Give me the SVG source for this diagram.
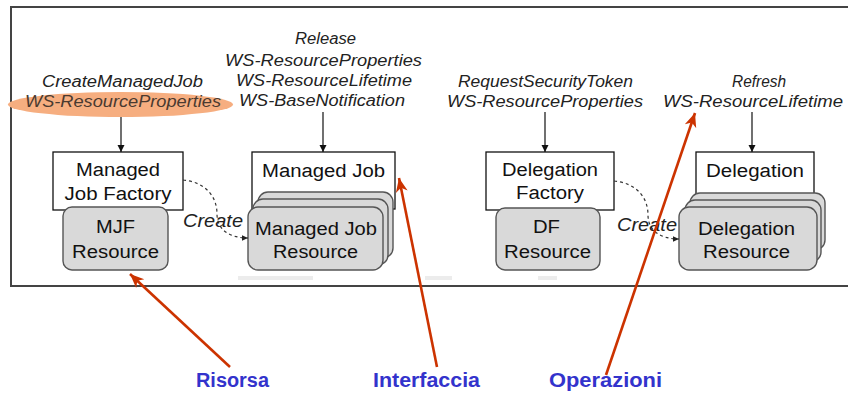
<svg xmlns="http://www.w3.org/2000/svg" width="848" height="393" viewBox="0 0 848 393">
<defs>
<marker id="ah" markerUnits="userSpaceOnUse" markerWidth="8" markerHeight="8" refX="7" refY="4" orient="auto">
<path d="M0,0.5 L7,4 L0,7.5 Z" fill="#111"/>
</marker>
<marker id="ahs" markerUnits="userSpaceOnUse" markerWidth="7" markerHeight="7" refX="6" refY="3.5" orient="auto">
<path d="M0,0.8 L6,3.5 L0,6.2 Z" fill="#222"/>
</marker>
<marker id="ahr" markerUnits="userSpaceOnUse" markerWidth="16" markerHeight="14" refX="14" refY="7" orient="auto">
<path d="M0,1 L14,7 L0,13 L4,7 Z" fill="#cc3300"/>
</marker>
<style>
.frame{fill:none;stroke:#444;stroke-width:2}
.box{fill:#fff;stroke:#111;stroke-width:1.3}
.res{fill:#d9d9d9;stroke:#555;stroke-width:1.4}
.bt{font-family:"Liberation Sans",Arial,sans-serif;font-size:18px;fill:#111;text-anchor:middle}
.it{font-family:"Liberation Sans",Arial,sans-serif;font-size:16px;font-style:italic;fill:#222;text-anchor:middle}
.cr{font-family:"Liberation Sans",Arial,sans-serif;font-size:18px;font-style:italic;fill:#222}
.lab{font-family:"Liberation Sans",Arial,sans-serif;font-size:20px;font-weight:bold;fill:#3333cc;text-anchor:middle}
.conn{fill:none;stroke:#111;stroke-width:1.2}
.dash{fill:none;stroke:#333;stroke-width:1.2;stroke-dasharray:3,3}
.red{fill:none;stroke:#cc3300;stroke-width:2.6}
</style>
</defs>
<rect class="frame" x="11" y="7" width="850" height="279"/>
<rect x="238" y="276" width="75" height="4" fill="#ececec"/>
<rect x="425" y="276" width="27" height="4" fill="#ececec"/>
<rect x="538" y="276" width="19" height="4" fill="#ececec"/>

<g id="ops-mjf">
<ellipse cx="120.5" cy="104.5" rx="112.5" ry="12.5" fill="#f6ae80"/>
<text class="it" x="122.5" y="86.5" textLength="161" lengthAdjust="spacingAndGlyphs">CreateManagedJob</text>
<text class="it" x="123" y="106.5" textLength="196" lengthAdjust="spacingAndGlyphs" style="fill:#4a3a30">WS-ResourceProperties</text>
</g>
<g id="ops-mj">
<text class="it" x="325.5" y="44" textLength="61" lengthAdjust="spacingAndGlyphs">Release</text>
<text class="it" x="323.5" y="65.5" textLength="197" lengthAdjust="spacingAndGlyphs">WS-ResourceProperties</text>
<text class="it" x="324" y="86" textLength="176" lengthAdjust="spacingAndGlyphs">WS-ResourceLifetime</text>
<text class="it" x="322" y="106" textLength="166" lengthAdjust="spacingAndGlyphs">WS-BaseNotification</text>
</g>
<g id="ops-df">
<text class="it" x="545.5" y="87" textLength="175" lengthAdjust="spacingAndGlyphs">RequestSecurityToken</text>
<text class="it" x="545" y="107" textLength="196" lengthAdjust="spacingAndGlyphs">WS-ResourceProperties</text>
</g>
<g id="ops-d">
<text class="it" x="759" y="87" textLength="54" lengthAdjust="spacingAndGlyphs">Refresh</text>
<text class="it" x="753" y="107" textLength="180" lengthAdjust="spacingAndGlyphs">WS-ResourceLifetime</text>
</g>

<g id="mjf">
<rect class="box" x="53" y="152" width="130" height="58"/>
<text class="bt" x="118" y="176" textLength="84" lengthAdjust="spacingAndGlyphs">Managed</text>
<text class="bt" x="118" y="200" textLength="107" lengthAdjust="spacingAndGlyphs">Job Factory</text>
</g>
<g id="mjf-res">
<rect class="res" x="63" y="207" width="105" height="63" rx="9"/>
<text class="bt" x="115.5" y="233" textLength="39" lengthAdjust="spacingAndGlyphs">MJF</text>
<text class="bt" x="115.5" y="258" textLength="87" lengthAdjust="spacingAndGlyphs">Resource</text>
</g>
<g id="mj">
<rect class="box" x="252" y="152" width="143" height="57"/>
<text class="bt" x="323.5" y="177" textLength="123" lengthAdjust="spacingAndGlyphs">Managed Job</text>
</g>
<g id="mj-res">
<rect class="res" x="258" y="192" width="135" height="66" rx="10"/>
<rect class="res" x="253" y="199" width="135" height="66" rx="10"/>
<rect class="res" x="248" y="207" width="135" height="63" rx="10"/>
<text class="bt" x="316" y="235" textLength="122" lengthAdjust="spacingAndGlyphs">Managed Job</text>
<text class="bt" x="315.5" y="258" textLength="85" lengthAdjust="spacingAndGlyphs">Resource</text>
</g>
<g id="df">
<rect class="box" x="486" y="152" width="128" height="58"/>
<text class="bt" x="550" y="176" textLength="96" lengthAdjust="spacingAndGlyphs">Delegation</text>
<text class="bt" x="550" y="199" textLength="68" lengthAdjust="spacingAndGlyphs">Factory</text>
</g>
<g id="df-res">
<rect class="res" x="496" y="208" width="104" height="62" rx="9"/>
<text class="bt" x="546.5" y="233" textLength="27" lengthAdjust="spacingAndGlyphs">DF</text>
<text class="bt" x="547.5" y="258" textLength="87" lengthAdjust="spacingAndGlyphs">Resource</text>
</g>
<g id="d">
<rect class="box" x="696" y="152" width="118" height="50"/>
<text class="bt" x="755" y="177" textLength="98" lengthAdjust="spacingAndGlyphs">Delegation</text>
</g>
<g id="d-res">
<rect class="res" x="690" y="193" width="135" height="57" rx="10"/>
<rect class="res" x="685" y="200" width="136" height="62" rx="10"/>
<rect class="res" x="679" y="207" width="138" height="63" rx="10"/>
<text class="bt" x="746.5" y="235" textLength="97" lengthAdjust="spacingAndGlyphs">Delegation</text>
<text class="bt" x="746.5" y="258" textLength="87" lengthAdjust="spacingAndGlyphs">Resource</text>
</g>

<g id="connectors">
<line class="conn" x1="121" y1="117" x2="121" y2="152" marker-end="url(#ah)"/>
<line class="conn" x1="323" y1="112" x2="323" y2="152" marker-end="url(#ah)"/>
<line class="conn" x1="545" y1="112" x2="545" y2="152" marker-end="url(#ah)"/>
<line class="conn" x1="752" y1="112" x2="752" y2="152" marker-end="url(#ah)"/>
<path class="dash" d="M183,180 C205,182 217,196 217,214 C217,230 230,238 248,238" marker-end="url(#ahs)"/>
<text class="cr" x="183" y="226.5" textLength="60" lengthAdjust="spacingAndGlyphs">Create</text>
<path class="dash" d="M614,181 C636,183 648,197 648,215 C648,231 661,239 679,239" marker-end="url(#ahs)"/>
<text class="cr" x="617" y="231" textLength="60" lengthAdjust="spacingAndGlyphs">Create</text>
<line class="red" x1="230" y1="367" x2="130" y2="274" marker-end="url(#ahr)"/>
<line class="red" x1="437" y1="367" x2="399" y2="178" marker-end="url(#ahr)"/>
<line class="red" x1="606" y1="375" x2="695" y2="113" marker-end="url(#ahr)"/>
</g>

<g id="labels">
<text class="lab" x="232.5" y="387" textLength="73" lengthAdjust="spacingAndGlyphs">Risorsa</text>
<text class="lab" x="426.5" y="387" textLength="107" lengthAdjust="spacingAndGlyphs">Interfaccia</text>
<text class="lab" x="605.5" y="387" textLength="113" lengthAdjust="spacingAndGlyphs">Operazioni</text>
</g>
</svg>
